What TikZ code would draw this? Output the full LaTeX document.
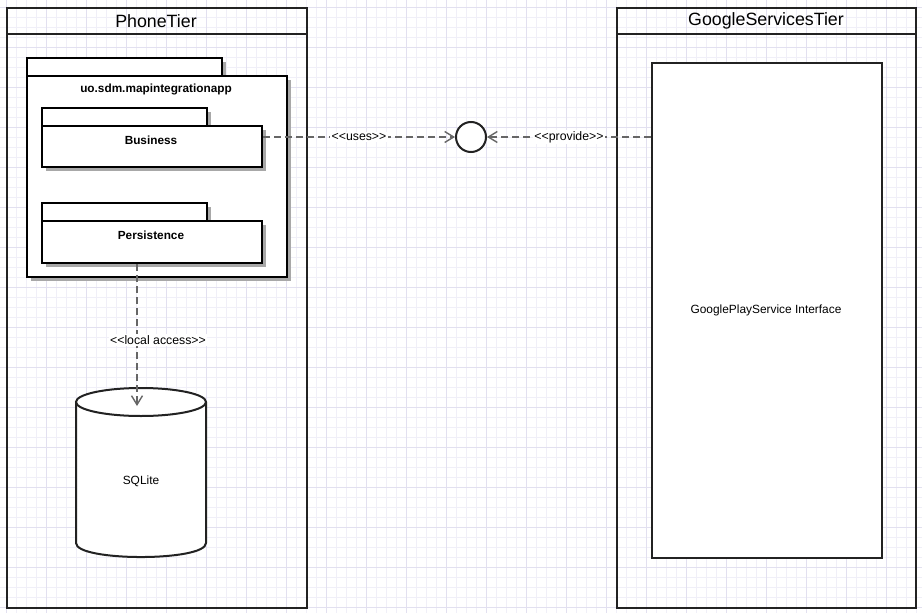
\documentclass[tikz,border=0pt]{standalone}
\usepackage{fontspec}
\setmainfont{Liberation Sans}
\usetikzlibrary{arrows.meta,shadows}
\definecolor{gridminor}{HTML}{F0EFF8}
\definecolor{gridmajor}{HTML}{E2E0F0}
\definecolor{frameline}{HTML}{222222}
\definecolor{dashline}{HTML}{666666}
\definecolor{shadowgray}{HTML}{A8A8A8}
\newcommand{\lt}{<\kern0pt<}
\newcommand{\gtt}{>\kern0pt>}
\tikzset{
  tierframe/.style={draw=frameline, line width=2pt, anchor=north west, inner sep=0pt},
  titletext/.style={font=\fontsize{17.8}{21}\selectfont, inner sep=0pt},
  pkgbox/.style={draw=black, line width=2pt, fill=white, anchor=north west, inner sep=0pt,
    drop shadow={shadow xshift=4pt, shadow yshift=-4pt, fill=shadowgray, opacity=1}},
  pkglabel/.style={font=\fontsize{11.8}{14}\bfseries\selectfont, inner sep=0pt},
  plainlabel/.style={font=\fontsize{11.9}{14}\selectfont, inner sep=0pt},
  deplabel/.style={font=\fontsize{12.3}{14}\selectfont, fill=white, inner sep=1.5pt},
  depline/.style={draw=dashline, line width=1.6pt, dash pattern=on 7pt off 4pt,
    -{Straight Barb[length=9pt,width=11pt,line width=1.4pt]}},
}
\begin{document}
\begin{tikzpicture}[x=1pt,y=-1pt]
\useasboundingbox (0,0) rectangle (922,613);
% grid
\fill[white] (0,0) rectangle (922,613);
\foreach \gx in {6,16,...,916} \draw[gridminor, line width=1pt] (\gx,0) -- (\gx,613);
\foreach \gy in {7,17,...,607} \draw[gridminor, line width=1pt] (0,\gy) -- (922,\gy);
\foreach \gx in {6,46,...,886} \draw[gridmajor, line width=1pt] (\gx,0) -- (\gx,613);
\foreach \gy in {7,47,...,607} \draw[gridmajor, line width=1pt] (0,\gy) -- (922,\gy);

% tiers
\node[tierframe, minimum width=300pt, minimum height=600pt] (phone) at (6,7) {};
\draw[frameline, line width=2pt] (6,34) -- (306,34);
\node[titletext] (phonetitle) at (156,21) {PhoneTier};

\node[tierframe, minimum width=299pt, minimum height=600pt] (google) at (616,7) {};
\draw[frameline, line width=2pt] (616,34) -- (915,34);
\node[titletext] (googletitle) at (766,21) {GoogleServicesTier};

\node[draw=frameline, line width=2pt, fill=white, anchor=north west, inner sep=0pt,
      minimum width=230pt, minimum height=495pt] (gps) at (651,62) {};
\node[plainlabel] (gpslabel) at (766,310) {GooglePlayService Interface};

% outer package
\node[pkgbox, minimum width=195pt, minimum height=18pt] (apptab) at (26,57) {};
\node[pkgbox, minimum width=260pt, minimum height=201pt] (app) at (26,75) {};
\node[pkglabel] (applabel) at (156,89) {uo.sdm.mapintegrationapp};

% business package
\node[pkgbox, minimum width=165pt, minimum height=18pt] (bustab) at (41,107) {};
\node[pkgbox, minimum width=220pt, minimum height=41pt] (business) at (41,125) {};
\node[pkglabel] (buslabel) at (151,140) {Business};

% persistence package
\node[pkgbox, minimum width=165pt, minimum height=18pt] (pertab) at (41,202) {};
\node[pkgbox, minimum width=220pt, minimum height=42pt] (persistence) at (41,220) {};
\node[pkglabel] (perlabel) at (151,235) {Persistence};

% interface circle
\node[circle, draw=frameline, line width=2pt, fill=white, minimum size=30pt, inner sep=0pt] (iface) at (471,137) {};

% database cylinder
\draw[frameline, line width=2pt, fill=white] (76,402) -- (76,543)
  .. controls (76,561.7) and (206,561.7) .. (206,543) -- (206,402);
\draw[frameline, line width=2pt, fill=white] (141,402) ellipse [x radius=65pt, y radius=14pt];
\node[minimum width=130pt, minimum height=169pt, inner sep=0pt] (db) at (141,472.5) {};
\node[plainlabel] (dblabel) at (141,481) {SQLite};
\coordinate (dbtop) at (137,406);

% connectors
\draw[depline] (business.east |- 0,137) -- node[deplabel, pos=0.5] {\lt uses\gtt} (iface.west);
\draw[depline] (gps.west |- 0,137) -- node[deplabel, pos=0.5] {\lt provide\gtt} (iface.east);
\draw[depline] (persistence.south -| 137,0) -- (dbtop);
\node[deplabel] (lalabel) at (158,340) {\lt local access\gtt};
\end{tikzpicture}
\end{document}
